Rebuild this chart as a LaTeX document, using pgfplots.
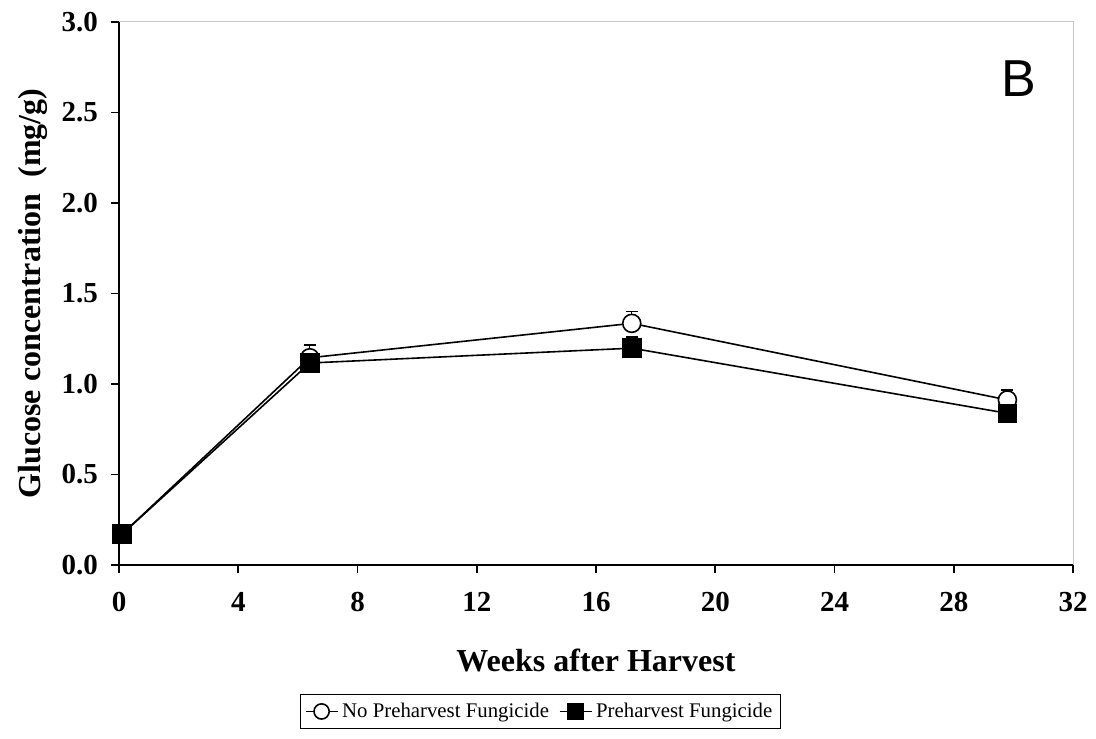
\documentclass[border=0pt]{standalone}
\usepackage{fontspec}
\setmainfont{Liberation Serif}
\newfontfamily\arialfont{Liberation Sans}
\usepackage{pgfplots}
\pgfplotsset{compat=1.18}

\begin{document}
\begin{tikzpicture}
\begin{axis}[
  name=main,
  scale only axis,
  width=477pt, height=271.5pt,
  xmin=0, xmax=32, ymin=0, ymax=3,
  xtick={0,4,...,32},
  ytick={0,0.5,...,3.0},
  /pgf/number format/assume math mode=true,
  y tick label style={/pgf/number format/fixed, /pgf/number format/fixed zerofill,
    /pgf/number format/precision=1, xshift=-3pt},
  x tick label style={yshift=-6pt},
  tick label style={font=\fontsize{14.5}{16}\selectfont\bfseries},
  axis x line*=bottom, axis y line*=left,
  axis line style={line width=0.8pt},
  tick style={black, line width=0.8pt},
  tick align=outside,
  major tick length=4pt,
  xlabel={Weeks after Harvest},
  ylabel={Glucose concentration\ \ (mg/g)},
  label style={font=\fontsize{16}{18}\selectfont\bfseries},
  xlabel style={yshift=-12pt},
  legend columns=2,
  legend style={at={(0.442,-0.238)}, anchor=north, draw=black, line width=0.5pt,
    font=\fontsize{10.4}{12}\selectfont, inner sep=2pt,
    /tikz/every even column/.append style={column sep=3pt}},
  legend image code/.code={
    \draw[line width=0.6pt] (0pt,0pt) -- (16pt,0pt);
    \draw[#1, mark repeat=1, mark size=3.8pt] plot coordinates {(8pt,0pt)};
  },
  clip=false,
]
% light frame on top and right
\draw[gray!45, line width=0.5pt] (axis cs:0,3) -- (axis cs:32,3) -- (axis cs:32,0);

\addplot[black, line width=0.8pt, mark=*, mark options={fill=white, line width=0.8pt}, mark size=4.5pt,
  error bars/.cd, y dir=plus, y explicit,
  error mark options={rotate=90, mark size=3pt, line width=0.8pt}]
  table[x=w, y=g, y error=e] {
  w     g      e
  0.1   0.17   0.01
  6.4   1.145  0.07
  17.2  1.335  0.065
  29.8  0.912  0.055
};
\addlegendentry{No Preharvest Fungicide}

\addplot[black, line width=0.8pt, mark=square*, mark options={fill=black}, mark size=4.5pt,
  error bars/.cd, y dir=plus, y explicit,
  error mark options={rotate=90, mark size=3pt, line width=0.8pt}]
  table[x=w, y=g, y error=e] {
  w     g      e
  0.1   0.17   0.01
  6.4   1.116  0.05
  17.2  1.198  0.06
  29.8  0.838  0.03
};
\addlegendentry{Preharvest Fungicide}

\node[font=\arialfont\fontsize{26}{28}\selectfont] at (axis cs:30.19,2.685) {B};
\end{axis}
\path ([shift={(-59.5pt,-86.5pt)}]main.south west) rectangle ([shift={(11.5pt,11pt)}]main.north east);
\end{tikzpicture}
\end{document}
